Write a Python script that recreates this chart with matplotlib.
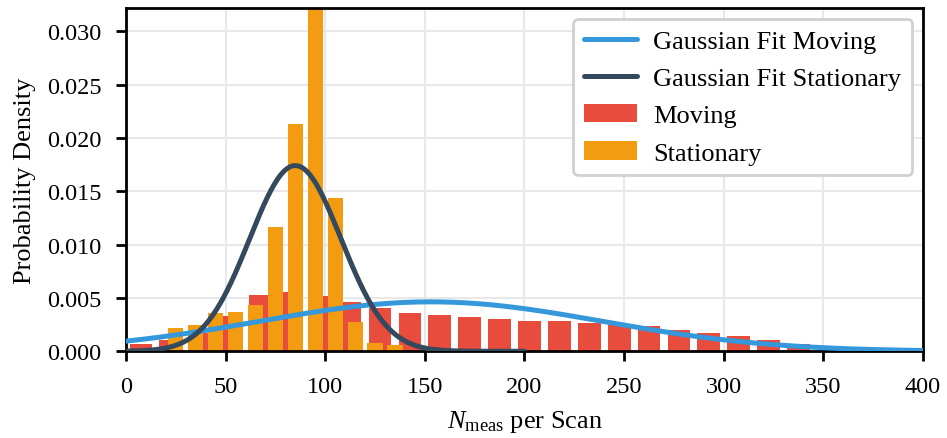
import numpy as np
import matplotlib
matplotlib.use("Agg")
import matplotlib.pyplot as plt
from matplotlib.ticker import FormatStrFormatter

# Histogram densities (per unit of N_meas)
moving_edges_start, moving_bin_width, moving_nbins = 0, 15, 23
moving_density = [0.00068, 0.00103, 0.0017, 0.0033, 0.0053, 0.00555, 0.0052,
                  0.0046, 0.0041, 0.0036, 0.0034, 0.0032, 0.0030, 0.00284,
                  0.00284, 0.00265, 0.00246, 0.00237, 0.0020, 0.0017,
                  0.00143, 0.00106, 0.00068]

stat_edges_start, stat_bin_width, stat_nbins = 20, 10, 12
stationary_density = [0.00216, 0.00244, 0.00356, 0.00366, 0.0043, 0.01163,
                      0.02128, 0.0326, 0.01434, 0.00272, 0.00075, 0.00056]

# Gaussian fit parameters
moving_mu, moving_sigma = 153.0, 86.0
stat_mu, stat_sigma = 85.0, 22.9

xticks = [0, 50, 100, 150, 200, 250, 300, 350, 400]
yticks = [0.000, 0.005, 0.010, 0.015, 0.020, 0.025, 0.030]

RED = "#e74c3c"
ORANGE = "#f39c12"
BLUE = "#3498db"
DARK = "#34495e"

plt.rcParams["font.family"] = ["Liberation Serif", "DejaVu Serif"]
plt.rcParams["mathtext.fontset"] = "custom"
plt.rcParams["mathtext.rm"] = "Liberation Serif"
plt.rcParams["mathtext.it"] = "Liberation Serif:italic"

fig = plt.figure(figsize=(9.47, 4.39), dpi=100)
ax = fig.add_axes([0.133, 0.1975, 0.8417, 0.782])


def gauss(x, mu, sigma):
    return np.exp(-0.5 * ((x - mu) / sigma) ** 2) / (sigma * np.sqrt(2 * np.pi))


rwidth = 0.76
m_edges = moving_edges_start + moving_bin_width * np.arange(moving_nbins + 1)
m_centers = 0.5 * (m_edges[:-1] + m_edges[1:])
s_edges = stat_edges_start + stat_bin_width * np.arange(stat_nbins + 1)
s_centers = 0.5 * (s_edges[:-1] + s_edges[1:])

ax.bar(m_centers, moving_density, width=moving_bin_width * rwidth,
       color=RED, label="Moving", zorder=2)
ax.bar(s_centers, stationary_density, width=stat_bin_width * rwidth,
       color=ORANGE, label="Stationary", zorder=2)

x_mov = np.linspace(0, 400, 600)
x_sta = np.linspace(0, 200, 400)
ax.plot(x_mov, gauss(x_mov, moving_mu, moving_sigma), color=BLUE, lw=3.6,
        label="Gaussian Fit Moving", zorder=3, solid_capstyle="round")
ax.plot(x_sta, gauss(x_sta, stat_mu, stat_sigma), color=DARK, lw=3.6,
        label="Gaussian Fit Stationary", zorder=3, solid_capstyle="round")

ax.set_xlim(0, 400)
ax.set_ylim(0, 0.0322)
ax.set_xticks(xticks)
ax.set_yticks(yticks)
ax.yaxis.set_major_formatter(FormatStrFormatter("%.3f"))
ax.grid(True, color="#e8e8e8", lw=1.5, zorder=0)
ax.set_axisbelow(True)

for sp in ax.spines.values():
    sp.set_linewidth(2)
    sp.set_color("black")
ax.tick_params(direction="out", length=7.5, width=2, labelsize=17.5, pad=10)

ax.set_xlabel(r"$N_{\mathrm{meas}}$ per Scan", fontsize=19, labelpad=8)
ax.set_ylabel("Probability Density", fontsize=19, labelpad=8)

leg = ax.legend(loc="upper right", fontsize=19, frameon=True, fancybox=True,
                handlelength=2.0, borderpad=0.4, labelspacing=0.52,
                handletextpad=0.64, borderaxespad=0,
                bbox_to_anchor=(0.9862, 0.968))
leg.get_frame().set_edgecolor("#d0d0d0")
leg.get_frame().set_linewidth(2)
leg.get_frame().set_alpha(1)

fig.savefig("out.png", dpi=100)
